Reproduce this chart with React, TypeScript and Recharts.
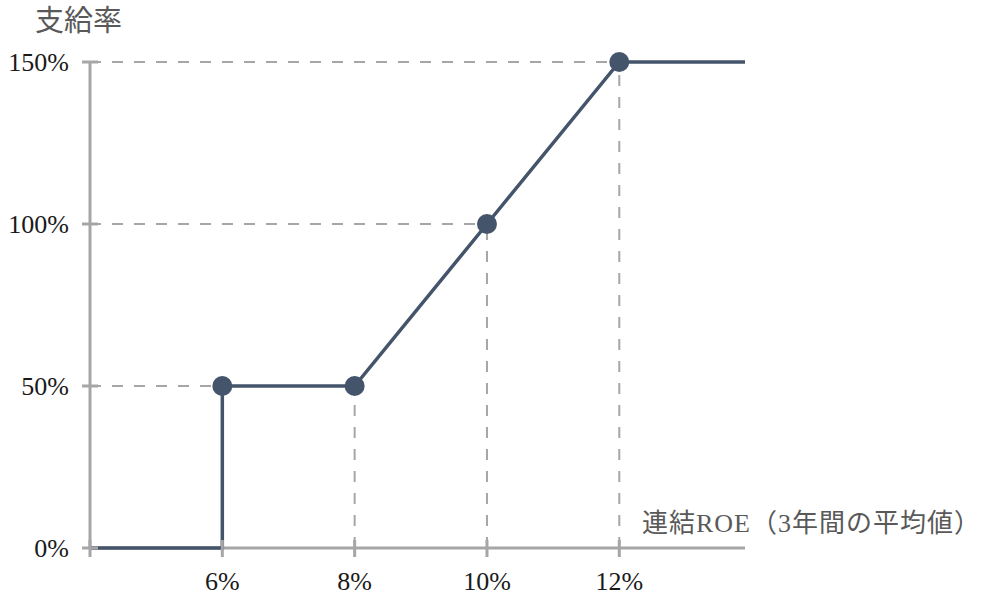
import { LineChart, Line, XAxis, YAxis, ReferenceLine } from 'recharts'

// 連結ROE (%) と 支給率 (%)
const roe = [4, 6, 6, 8, 10, 12, 13.9]
const payout = [0, 0, 50, 50, 100, 150, 150]
// 丸印を付ける点のインデックス
const markedPoints = [2, 3, 4, 5]

const xTicks = [4, 6, 8, 10, 12]
const yTicks = [0, 50, 100, 150]

const data = roe.map((x, i) => ({ roe: x, payout: payout[i] }))

const LINE = '#44546a'
const AXIS = '#a6a6a6'
const LABEL = '#595959'
const NUM_FONT = '"Liberation Serif", "DejaVu Serif", serif'
const JP_FONT = '"Liberation Serif", "Noto Sans CJK JP", sans-serif'

const TICK_SIZE = 8
const Y_MARGIN = 14
const X_MARGIN = 25

function YTick({ x, y, payload }: any) {
  const axisX = x + TICK_SIZE + Y_MARGIN
  return (
    <g>
      <line x1={axisX - 8} x2={axisX + 8} y1={y} y2={y} stroke={AXIS} strokeWidth={3} />
      <text
        x={x + 1}
        y={y}
        dy="0.35em"
        textAnchor="end"
        fontFamily={NUM_FONT}
        fontSize={26}
        fill="#1a1a1a"
      >
        {payload.value}%
      </text>
    </g>
  )
}

function XTick({ x, y, payload }: any) {
  const axisY = y - TICK_SIZE - X_MARGIN
  return (
    <g>
      <line x1={x} x2={x} y1={axisY - 8} y2={axisY + 9} stroke={AXIS} strokeWidth={3} />
      {payload.value !== xTicks[0] && (
        <text
          x={x}
          y={y}
          dy="0.35em"
          textAnchor="middle"
          fontFamily={NUM_FONT}
          fontSize={26}
          fill="#1a1a1a"
        >
          {payload.value}%
        </text>
      )}
    </g>
  )
}

function Dot(props: any) {
  const { cx, cy, index } = props
  if (!markedPoints.includes(index)) return <g key={index} />
  return <circle key={index} cx={cx} cy={cy} r={10} fill={LINE} />
}

export default function App() {
  const marked = markedPoints.map((i) => data[i])
  const xMin = roe[0]
  const xMax = roe[roe.length - 1]

  return (
    <div style={{ position: 'absolute', left: 0, top: 0, width: 988, height: 597, background: '#fff' }}>
      <LineChart
        width={988}
        height={597}
        data={data}
        margin={{ top: 62, right: 243, left: 30, bottom: 9 }}
      >
        <XAxis
          type="number"
          dataKey="roe"
          domain={[xMin, xMax]}
          ticks={xTicks}
          tick={<XTick />}
          tickSize={TICK_SIZE}
          tickMargin={X_MARGIN}
          tickLine={false}
          axisLine={false}
          height={40}
        />
        <YAxis
          type="number"
          domain={[0, 150]}
          ticks={yTicks}
          tick={<YTick />}
          tickSize={TICK_SIZE}
          tickMargin={Y_MARGIN}
          tickLine={false}
          axisLine={false}
          width={60}
        />
        {marked.map((p) => (
          <ReferenceLine
            key={`h${p.roe}`}
            segment={[
              { x: xMin, y: p.payout },
              { x: p.roe, y: p.payout },
            ]}
            stroke={AXIS}
            strokeWidth={2}
            strokeDasharray="11 11"
          />
        ))}
        {marked.slice(1).map((p) => (
          <ReferenceLine
            key={`v${p.roe}`}
            segment={[
              { x: p.roe, y: 0 },
              { x: p.roe, y: p.payout },
            ]}
            stroke={AXIS}
            strokeWidth={2}
            strokeDasharray="11 11"
          />
        ))}
        {/* 軸線は折れ線の下に描く */}
        <ReferenceLine
          segment={[
            { x: xMin, y: 0 },
            { x: xMax, y: 0 },
          ]}
          stroke={AXIS}
          strokeWidth={3}
        />
        <ReferenceLine
          segment={[
            { x: xMin, y: 0 },
            { x: xMin, y: yTicks[yTicks.length - 1] },
          ]}
          stroke={AXIS}
          strokeWidth={3}
        />
        <Line
          type="linear"
          dataKey="payout"
          stroke={LINE}
          strokeWidth={3.5}
          dot={<Dot />}
          activeDot={false}
          isAnimationActive={false}
        />
      </LineChart>
      <div
        style={{
          position: 'absolute',
          left: 35,
          top: 5,
          fontFamily: JP_FONT,
          fontSize: 29,
          lineHeight: '32px',
          color: LABEL,
        }}
      >
        支給率
      </div>
      <div
        style={{
          position: 'absolute',
          left: 642,
          top: 508,
          fontFamily: JP_FONT,
          fontSize: 26,
          letterSpacing: 1,
          lineHeight: '32px',
          color: LABEL,
          whiteSpace: 'nowrap',
        }}
      >
        連結ROE（3年間の平均値）
      </div>
    </div>
  )
}
